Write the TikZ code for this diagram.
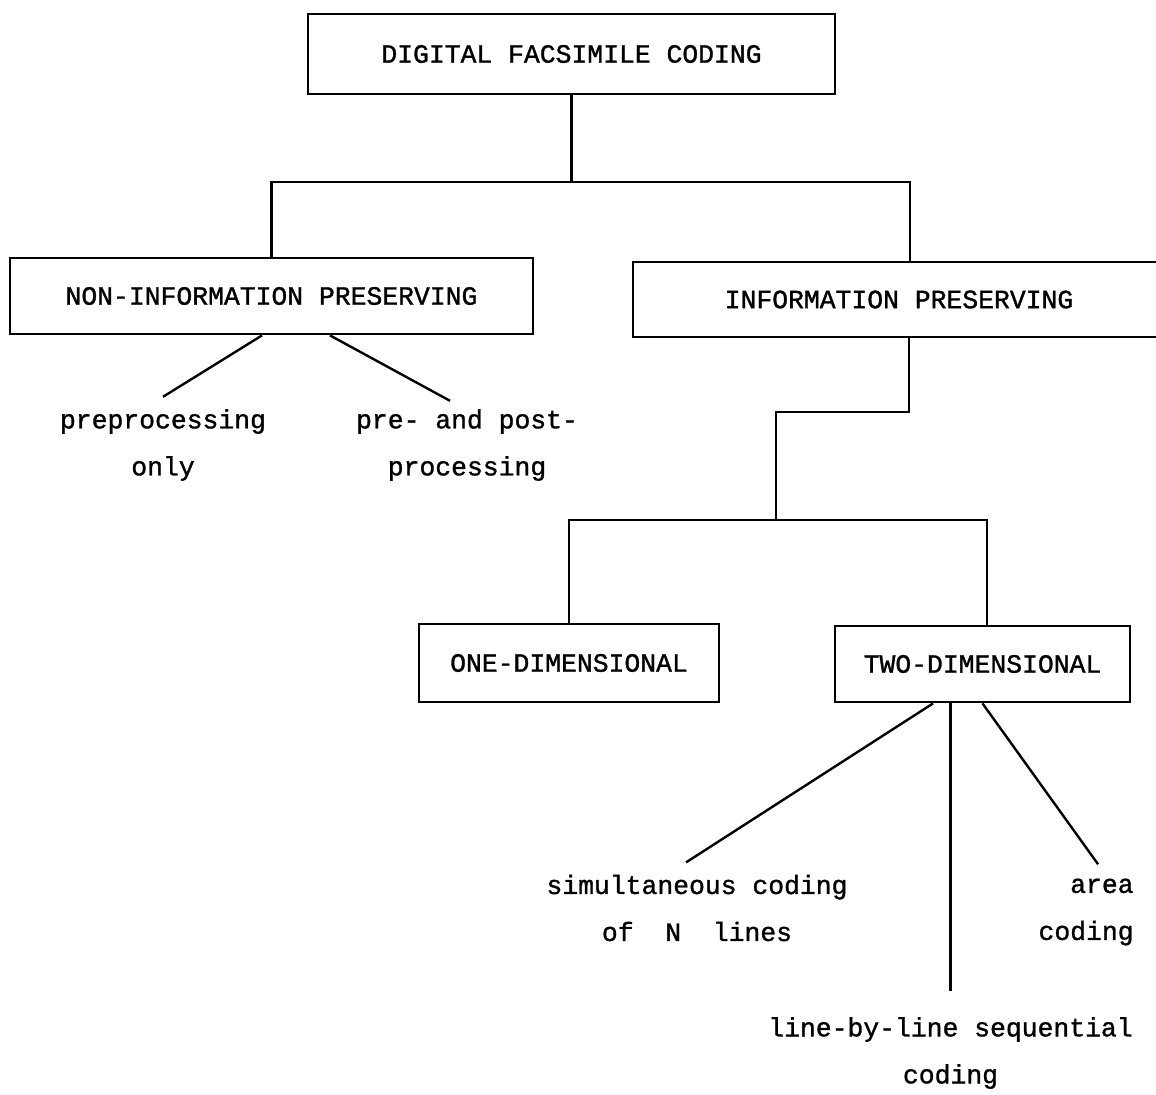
\documentclass[tikz,border=0pt]{standalone}
\usepackage{fontspec}
\newfontfamily\typewriter[FakeBold=1.2]{Liberation Mono}
\usetikzlibrary{positioning, calc}

\begin{document}
\begin{tikzpicture}[
      x=0.5pt, y=-0.5pt,
      box/.style={rectangle, draw, line width=1.4pt, inner sep=0pt, font=\typewriter\fontsize{13.2}{23.5}\selectfont},
      leaf/.style={align=center, inner sep=0pt, font=\typewriter\fontsize{13.2}{23.5}\selectfont},
      link/.style={line width=1.2pt}
    ]
      \useasboundingbox (0,0) rectangle (1156,1094);

      % Boxes
      \node[box, minimum width=263.5pt, minimum height=40pt] (fax) at (571.5,54) {DIGITAL FACSIMILE CODING};
      \node[box, minimum width=261.5pt, minimum height=38pt] (nonip) at (271.5,296) {NON-INFORMATION PRESERVING};
      \node[box, minimum width=266pt, minimum height=37.5pt] (ip) at (899,299.5) {INFORMATION PRESERVING};
      \node[box, minimum width=150pt, minimum height=39pt] (one) at (569,663) {ONE-DIMENSIONAL};
      \node[box, minimum width=147.5pt, minimum height=38pt] (two) at (982.5,664) {TWO-DIMENSIONAL};

      % Leaves
      \node[leaf] (preonly) at (163,445) {preprocessing\\only};
      \node[leaf] (prepost) at (467,445) {pre- and post-\\processing};
      \node[leaf] (nlines) at (697,908) {simultaneous coding\\of~~N~~lines};
      \node[leaf] (seq) at (950.5,1053) {line-by-line sequential\\coding};
      \node[leaf, align=right, anchor=east] (area) at (1134,912) {area\\coding};

      % Joints
      \coordinate (ipjoin) at (910,182);
      \coordinate (ipbend) at (909,412);
      \coordinate (dimbend) at (776,412);
      \coordinate (twojoin) at (987,520);

      % Lines
      \draw[link] (fax.south) -- (fax.south |- ipjoin);
      \draw[link] (nonip.north) |- (ipjoin) -- (ipjoin |- ip.north);
      \draw[link] (ipbend |- ip.south) -- (ipbend) -- (dimbend) -- (dimbend |- twojoin);
      \draw[link] (one.north) |- (twojoin) -- (twojoin |- two.north);

      \draw[link] ([xshift=-4.75pt]nonip.south) -- ([yshift=6pt]preonly.north);
      \draw[link] ([xshift=29.25pt]nonip.south) -- ([xshift=-8.5pt, yshift=4pt]prepost.north);
      \draw[link] ([xshift=-24.75pt]two.south) -- ([xshift=-5.5pt, yshift=6pt]nlines.north);
      \draw[link] (seq.north |- two.south) -- ([yshift=13pt]seq.north);
      \draw[link] (two.south) -- ([xshift=6pt, yshift=7pt]area.north);
    \end{tikzpicture}
\end{document}
